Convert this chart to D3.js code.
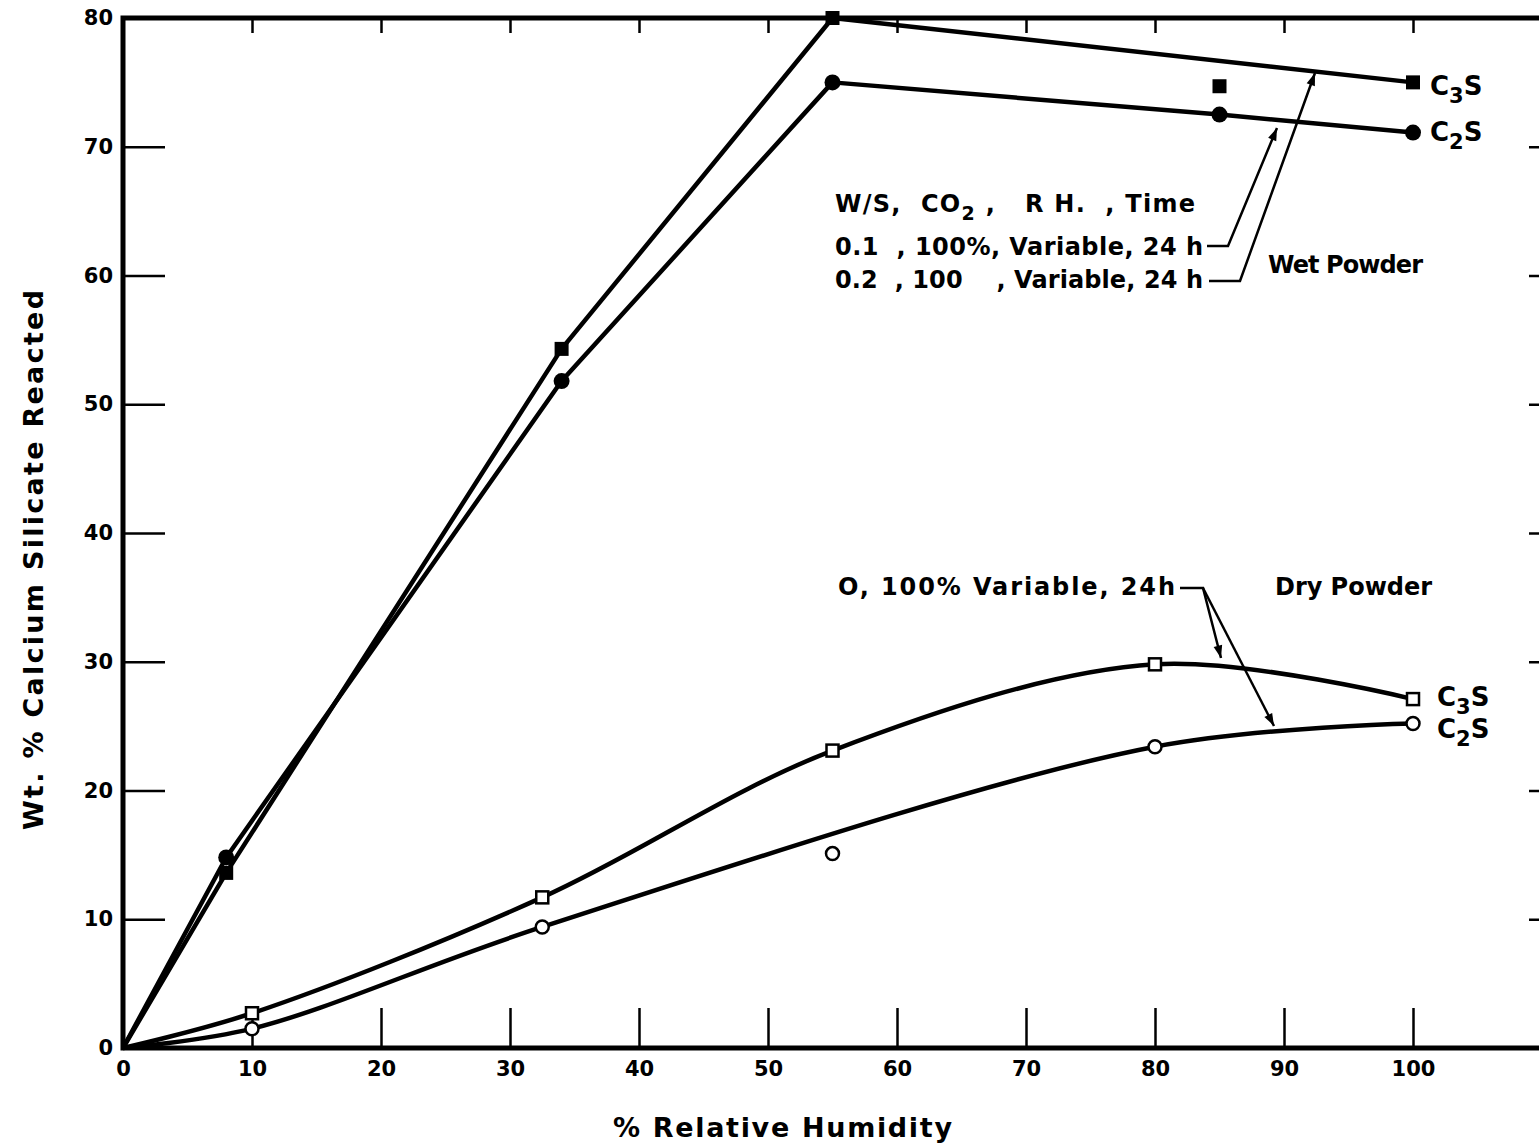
<!DOCTYPE html>
<html>
<head>
<meta charset="utf-8">
<script src="https://cdn.jsdelivr.net/npm/d3@7"></script>
<style>
  body { margin: 0; background: #fff; }
  svg { display: block; }
  text { font-family: "DejaVu Sans", sans-serif; font-weight: bold; fill: #000; white-space: pre; }
  .tick text { font-size: 21px; }
  .tick line { stroke: #000; stroke-width: 2.5; }
</style>
</head>
<body>
<svg id="chart" width="1539" height="1146"></svg>
<script>
// data (x = % RH, y = wt. % reacted)
const wetC3S = [[0, 0], [8, 13.6], [34, 54.3], [55, 80], [100, 75]];
const wetC3SLoose = [[85, 74.7]];
const wetC2S = [[0, 0], [8, 14.8], [34, 51.8], [55, 75], [85, 72.5], [100, 71.1]];
const dryC3S = [[0, 0], [10, 2.7], [32.5, 11.7], [55, 23.1], [80, 29.8], [100, 27.1]];
const dryC2S = [[0, 0], [10, 1.5], [32.5, 9.4], [80, 23.4], [100, 25.2]];
const dryC2SPoints = [[10, 1.5], [32.5, 9.4], [55, 15.1], [80, 23.4], [100, 25.2]];
const xTicks = [0, 10, 20, 30, 40, 50, 60, 70, 80, 90, 100];
const yTicks = [0, 10, 20, 30, 40, 50, 60, 70, 80];

const svg = d3.select('#chart');
const x = d3.scaleLinear().domain([0, 100]).range([123, 1413]);
const y = d3.scaleLinear().domain([0, 80]).range([1048, 18]);
const frame = {left: 123, right: 1545, top: 18, bottom: 1048};

// axes (ticks point inward)
svg.append('g')
	.attr('transform', `translate(0,${frame.bottom})`)
	.call(d3.axisBottom(x).tickValues(xTicks).tickSize(-40).tickPadding(10).tickFormat(d3.format('d')))
	.call(g => g.select('.domain').remove())
	.call(g => g.selectAll('.tick text').attr('dy', '0.85em'));

svg.append('g')
	.attr('transform', `translate(${frame.left},0)`)
	.call(d3.axisLeft(y).tickValues(yTicks).tickSize(-42).tickPadding(10))
	.call(g => g.select('.domain').remove());

svg.append('g')
	.attr('transform', `translate(0,${frame.top})`)
	.call(d3.axisTop(x).tickValues(xTicks.slice(1)).tickSize(-15).tickFormat(''))
	.call(g => g.select('.domain').remove());

svg.append('g')
	.attr('transform', `translate(${frame.right},0)`)
	.call(d3.axisRight(y).tickValues(yTicks.slice(1, -1)).tickSize(-16).tickFormat(''))
	.call(g => g.select('.domain').remove());

// frame
svg.append('path')
	.attr('d', `M${frame.right},${frame.top}H${frame.left}V${frame.bottom}H${frame.right}`)
	.attr('fill', 'none')
	.attr('stroke', '#000')
	.attr('stroke-width', 5);

// curves
const straight = d3.line().x(d => x(d[0])).y(d => y(d[1]));
const smooth = d3.line().curve(d3.curveCatmullRom.alpha(0.5)).x(d => x(d[0])).y(d => y(d[1]));

[[wetC3S, straight], [wetC2S, straight], [dryC3S, smooth], [dryC2S, smooth]].forEach(([data, gen]) => {
	svg.append('path')
		.attr('d', gen(data))
		.attr('fill', 'none')
		.attr('stroke', '#000')
		.attr('stroke-width', 4.5)
		.attr('stroke-linejoin', 'round');
});

// markers
svg.selectAll('.wsq')
	.data(wetC3S.slice(1).concat(wetC3SLoose))
	.enter().append('rect')
	.attr('x', d => x(d[0]) - 7).attr('y', d => y(d[1]) - 7)
	.attr('width', 14).attr('height', 14)
	.attr('fill', '#000');

svg.selectAll('.wci')
	.data(wetC2S.slice(1))
	.enter().append('circle')
	.attr('cx', d => x(d[0])).attr('cy', d => y(d[1]))
	.attr('r', 8).attr('fill', '#000');

svg.selectAll('.dsq')
	.data(dryC3S.slice(1))
	.enter().append('rect')
	.attr('x', d => x(d[0]) - 6).attr('y', d => y(d[1]) - 6)
	.attr('width', 12).attr('height', 12)
	.attr('fill', '#fff').attr('stroke', '#000').attr('stroke-width', 2.5);

svg.selectAll('.dci')
	.data(dryC2SPoints)
	.enter().append('circle')
	.attr('cx', d => x(d[0])).attr('cy', d => y(d[1]))
	.attr('r', 6.5)
	.attr('fill', '#fff').attr('stroke', '#000').attr('stroke-width', 2.5);

// labels with subscripts
function chem(xp, yp, sub) {
	const t = svg.append('text').attr('x', xp).attr('y', yp).style('font-size', '26px');
	t.append('tspan').text('C');
	t.append('tspan').attr('dy', 8).style('font-size', '21px').text(sub);
	t.append('tspan').attr('dy', -8).text('S');
}
chem(1430, 95, '3');
chem(1430, 141, '2');
chem(1437, 706, '3');
chem(1437, 738, '2');

function note(xp, yp, str, len) {
	return svg.append('text')
		.attr('x', xp).attr('y', yp)
		.attr('textLength', len).attr('lengthAdjust', 'spacing')
		.style('font-size', '24px')
		.text(str);
}
const hdr = svg.append('text')
	.attr('x', 835).attr('y', 212)
	.attr('textLength', 360).attr('lengthAdjust', 'spacing')
	.style('font-size', '24px');
hdr.append('tspan').text('W/S,  CO');
hdr.append('tspan').attr('dy', 8).style('font-size', '19px').text('2');
hdr.append('tspan').attr('dy', -8).text(' ,   R H.  , Time');
note(835, 255, '0.1  , 100%, Variable, 24 h', 368);
note(835, 288, '0.2  , 100    , Variable, 24 h', 368);
note(1268, 273, 'Wet Powder', 155);
note(838, 595, 'O, 100% Variable, 24h', 337);
note(1275, 595, 'Dry Powder', 157);

// leaders with arrows
svg.append('defs').append('marker')
	.attr('id', 'arr').attr('viewBox', '0 0 10 10').attr('refX', 10).attr('refY', 5)
	.attr('markerWidth', 6).attr('markerHeight', 5).attr('orient', 'auto')
	.append('path').attr('d', 'M0,1.5L10,5L0,8.5Z').attr('fill', '#000');

const leaders = [
	[[1207, 246], [1228, 246], [1277, 128]],
	[[1209, 281], [1240, 281], [1315, 73]],
	[[1180, 588], [1203, 588], [1221, 658]],
	[[1203, 588], [1274, 726]]
];
leaders.forEach(pts => {
	svg.append('path')
		.attr('d', d3.line()(pts))
		.attr('fill', 'none').attr('stroke', '#000').attr('stroke-width', 2.5)
		.attr('marker-end', 'url(#arr)');
});

// axis titles
svg.append('text')
	.attr('x', 613).attr('y', 1137)
	.attr('textLength', 339).attr('lengthAdjust', 'spacing')
	.style('font-size', '27px')
	.text('% Relative Humidity');

svg.append('text')
	.attr('transform', 'translate(43,830) rotate(-90)')
	.attr('textLength', 540).attr('lengthAdjust', 'spacing')
	.style('font-size', '27px')
	.text('Wt. % Calcium Silicate Reacted');
</script>
</body>
</html>
